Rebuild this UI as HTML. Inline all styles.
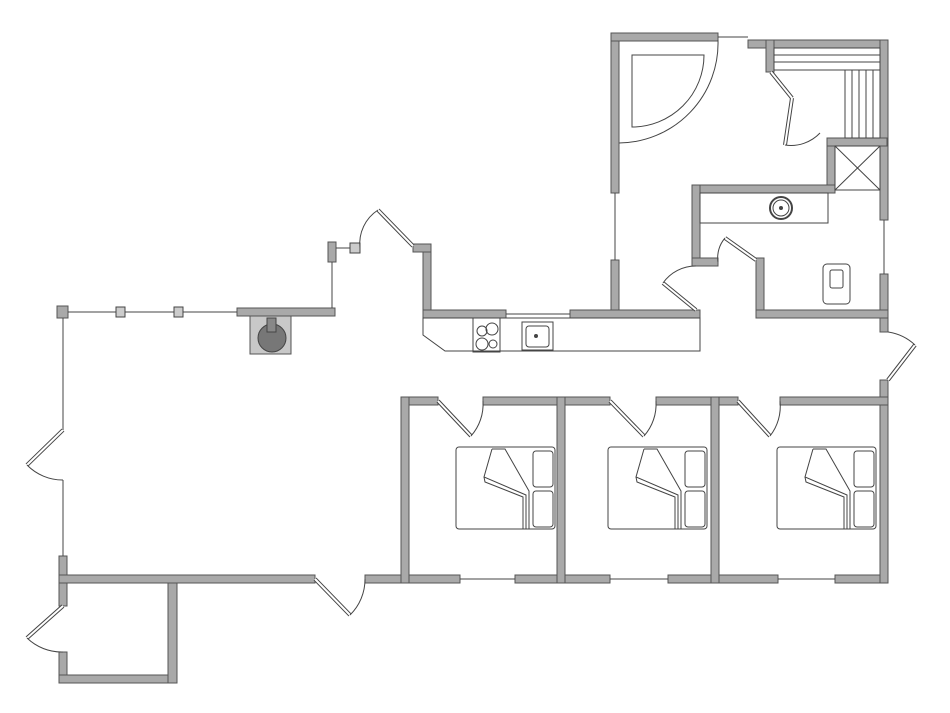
<!DOCTYPE html>
<html><head><meta charset="utf-8"><style>html,body{margin:0;padding:0;background:#fff}svg{display:block}</style></head>
<body>
<svg width="950" height="713" viewBox="0 0 950 713" xmlns="http://www.w3.org/2000/svg">
<defs>
<g id="leaves">
<line x1="378" y1="210" x2="413" y2="246"/>
<line x1="63" y1="430" x2="27" y2="465"/>
<line x1="63" y1="606" x2="27" y2="638"/>
<line x1="315" y1="579" x2="350" y2="615"/>
<line x1="438" y1="401" x2="471" y2="436"/>
<line x1="610" y1="401" x2="644" y2="436"/>
<line x1="738" y1="401" x2="770" y2="436"/>
<line x1="915" y1="345" x2="888" y2="380"/>
<line x1="663" y1="283" x2="696" y2="310"/>
<line x1="725" y1="238" x2="756" y2="260"/>
<line x1="771" y1="72" x2="792" y2="98"/>
<line x1="792" y1="98" x2="785" y2="145"/>
</g>
</defs>
<g fill="#a9a9a9" stroke="#555" stroke-width="1">
<rect x="611" y="33" width="8" height="160"/>
<rect x="611" y="33" width="107" height="8"/>
<rect x="748" y="40" width="140" height="8"/>
<rect x="880" y="40" width="8" height="180"/>
<rect x="880" y="274" width="8" height="58"/>
<rect x="766" y="40" width="8" height="32"/>
<rect x="827" y="138" width="8" height="55"/>
<rect x="827" y="138" width="60" height="8"/>
<rect x="692" y="185" width="143" height="8"/>
<rect x="692" y="185" width="8" height="81"/>
<rect x="692" y="258" width="26" height="8"/>
<rect x="756" y="258" width="8" height="60"/>
<rect x="756" y="310" width="132" height="8"/>
<rect x="611" y="260" width="8" height="55"/>
<rect x="423" y="244" width="8" height="74"/>
<rect x="413" y="244" width="18" height="8"/>
<rect x="423" y="310" width="83" height="8"/>
<rect x="570" y="310" width="130" height="8"/>
<rect x="237" y="308" width="98" height="8"/>
<rect x="328" y="242" width="8" height="20"/>
<rect x="57" y="306" width="11" height="12"/>
<rect x="59" y="556" width="8" height="50"/>
<rect x="59" y="652" width="8" height="31"/>
<rect x="59" y="675" width="118" height="8"/>
<rect x="168" y="575" width="9" height="108"/>
<rect x="59" y="575" width="256" height="8"/>
<rect x="365" y="575" width="95" height="8"/>
<rect x="515" y="575" width="95" height="8"/>
<rect x="668" y="575" width="110" height="8"/>
<rect x="835" y="575" width="53" height="8"/>
<rect x="880" y="380" width="8" height="203"/>
<rect x="401" y="397" width="37" height="8"/>
<rect x="483" y="397" width="127" height="8"/>
<rect x="656" y="397" width="82" height="8"/>
<rect x="780" y="397" width="108" height="8"/>
<rect x="401" y="397" width="8" height="186"/>
<rect x="557" y="397" width="8" height="186"/>
<rect x="711" y="397" width="8" height="186"/>
</g>
<use href="#leaves" stroke="#444" stroke-width="4"/>
<use href="#leaves" stroke="#fff" stroke-width="2"/>
<g fill="none" stroke="#444" stroke-width="1">
<line x1="615" y1="193" x2="615" y2="260"/>
<line x1="718" y1="37" x2="748" y2="37"/>
<line x1="884" y1="220" x2="884" y2="274"/>
<line x1="506" y1="314" x2="570" y2="314"/>
<line x1="68" y1="312" x2="237" y2="312"/>
<line x1="332" y1="262" x2="332" y2="308"/>
<line x1="336" y1="248" x2="360" y2="248"/>
<line x1="63" y1="318" x2="63" y2="430"/>
<line x1="63" y1="480" x2="63" y2="556"/>
<line x1="460" y1="579" x2="515" y2="579"/>
<line x1="610" y1="579" x2="668" y2="579"/>
<line x1="778" y1="579" x2="835" y2="579"/>
<rect x="116" y="307" width="9" height="10" fill="#ccc"/>
<rect x="174" y="307" width="9" height="10" fill="#ccc"/>
<rect x="350" y="243" width="10" height="10" fill="#ccc"/>
<path d="M360 248 A40 40 0 0 1 378 210"/>
<path d="M27 465 A50 50 0 0 0 63 480"/>
<path d="M27 638 A50 50 0 0 0 63 652"/>
<path d="M350 615 A50 50 0 0 0 365 579"/>
<path d="M471 436 A48 48 0 0 0 483 401"/>
<path d="M644 436 A48 48 0 0 0 656 401"/>
<path d="M770 436 A48 48 0 0 0 780 401"/>
<path d="M888 332 A50 50 0 0 1 915 345"/>
<path d="M663 283 A40 40 0 0 1 696 266"/>
<path d="M718 262 A30 30 0 0 1 725 238"/>
<path d="M619 143 A100 100 0 0 0 718 40"/>
<path d="M785 145 A40 40 0 0 0 820 133"/>
<path d="M632 55 L704 55 A72 72 0 0 1 632 127 Z"/>
<rect x="774" y="48" width="106" height="22"/>
<line x1="774" y1="55" x2="880" y2="55"/><line x1="774" y1="62" x2="880" y2="62"/>
<rect x="845" y="70" width="35" height="68"/>
<line x1="852" y1="70" x2="852" y2="138"/><line x1="859" y1="70" x2="859" y2="138"/><line x1="866" y1="70" x2="866" y2="138"/><line x1="873" y1="70" x2="873" y2="138"/>
<rect x="835" y="146" width="45" height="44"/>
<line x1="835" y1="146" x2="880" y2="190"/><line x1="880" y1="146" x2="835" y2="190"/>
<rect x="700" y="193" width="128" height="30"/>
<circle cx="781" cy="208" r="11" stroke-width="2"/><circle cx="781" cy="208" r="8"/>
<rect x="823" y="264" width="27" height="40" rx="4"/><rect x="830" y="270" width="13" height="18" rx="2"/>
<path d="M423 318 L700 318 L700 351 L445 351 L423 335 Z"/>
<rect x="473" y="318" width="27" height="34"/>
<circle cx="482" cy="331" r="5"/><circle cx="492" cy="329" r="6"/><circle cx="482" cy="344" r="6"/><circle cx="493" cy="344" r="4"/>
<rect x="522" y="322" width="31" height="28"/><rect x="526" y="326" width="23" height="21" rx="3"/>
<g id="bed">
<rect x="456" y="447" width="99" height="82" rx="3"/>
<rect x="533" y="451" width="20" height="36" rx="3"/><rect x="533" y="491" width="20" height="36" rx="3"/>
<path d="M492 449 L505 449 L529 491 L529 529 M492 449 L484 477 L526 495 L526 529 M484 477 L485 482 L523 497 L523 529"/>
</g>
<use href="#bed" x="152"/><use href="#bed" x="321"/>
</g>
<rect x="250" y="316" width="41" height="38" fill="#c8c8c8" stroke="#555"/>
<circle cx="272" cy="338" r="14" fill="#777" stroke="#444"/>
<rect x="267" y="318" width="9" height="14" fill="#888" stroke="#444"/>
<circle cx="536" cy="336" r="2" fill="#444"/>
<circle cx="781" cy="208" r="2" fill="#444"/>
</svg>
</body></html>
